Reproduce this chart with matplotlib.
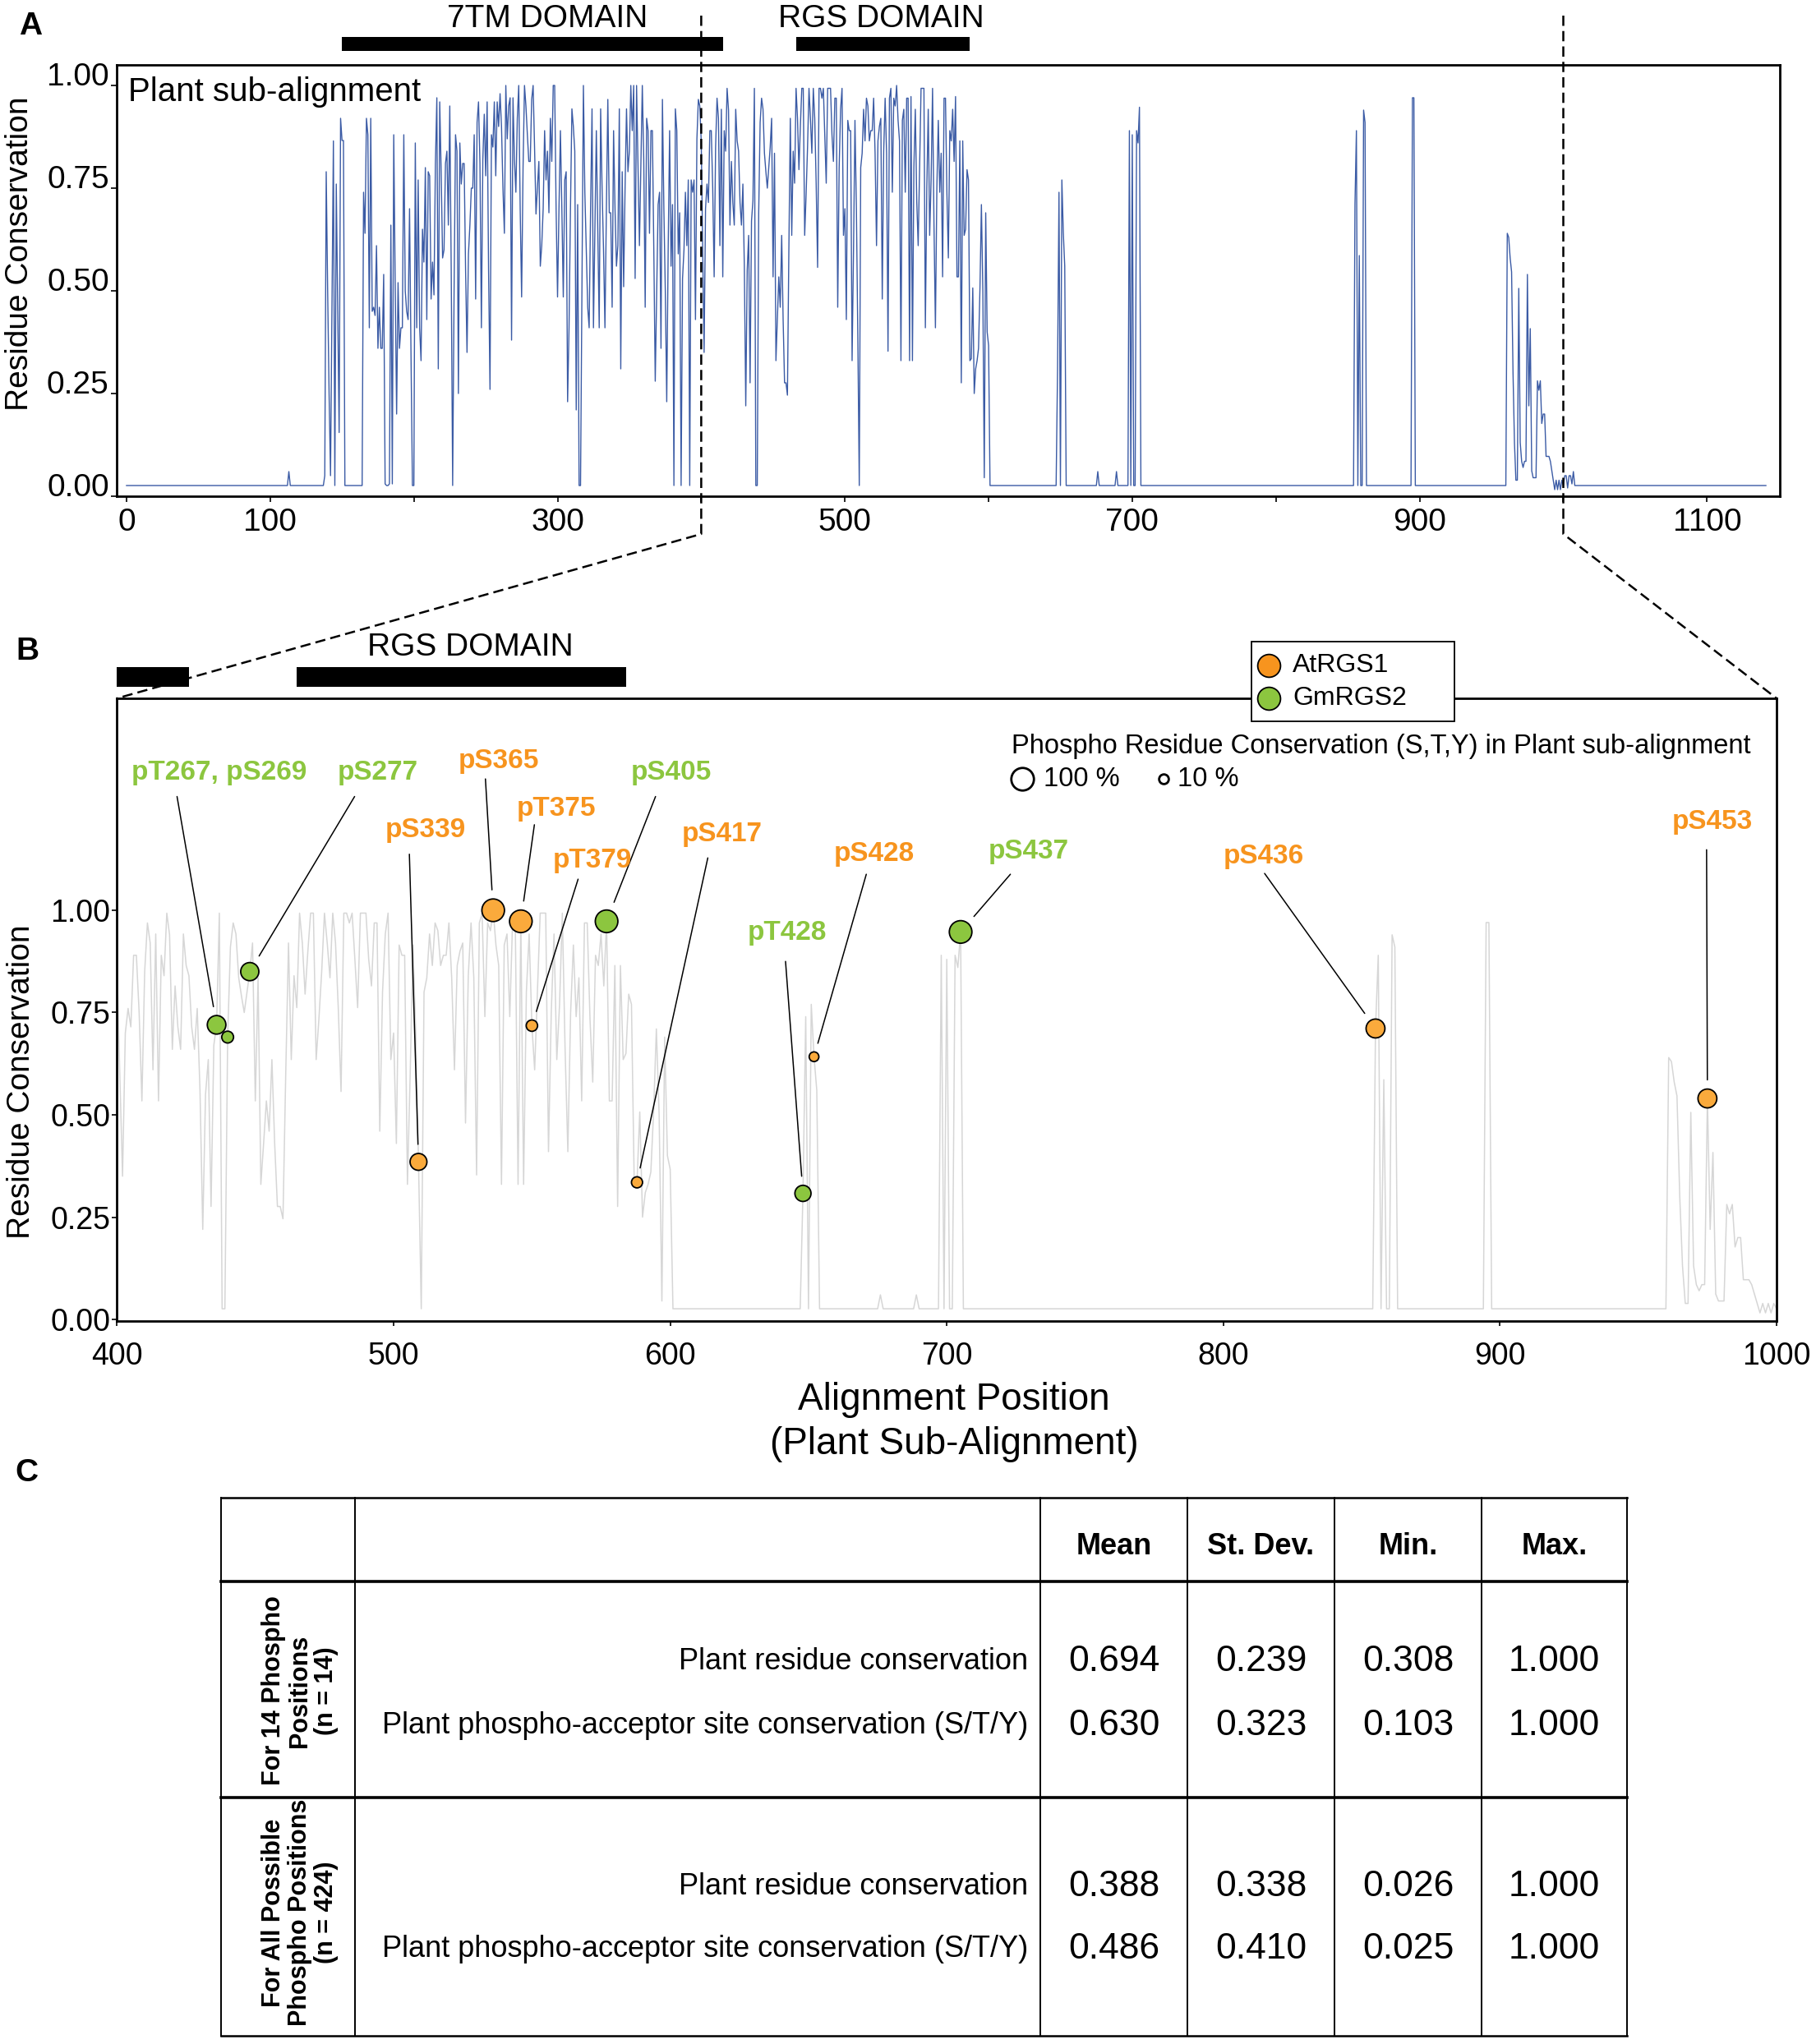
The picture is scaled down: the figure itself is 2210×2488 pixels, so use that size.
import numpy as np
import matplotlib
matplotlib.use("Agg")
from matplotlib import pyplot as plt
from matplotlib.patches import Rectangle
from matplotlib.lines import Line2D
from matplotlib.transforms import blended_transform_factory

plt.rcParams['font.family'] = ['Liberation Sans', 'DejaVu Sans']

# ---------------- data ----------------
# plant residue conservation per alignment position (gap baseline = 0.026)
n_positions = 1142
BASE = 0.026

bump_113 = [0.06]
seg_138 = [0.05, 0.79, 0.50, 0.25, 0.05, 0.45, 0.865, 0.026, 0.76, 0.45,
           0.155, 0.92, 0.866, 0.866, 0.026]
seg_165 = [0.74, 0.64, 0.92, 0.88, 0.41, 0.92, 0.45, 0.46, 0.44, 0.61,
           0.36, 0.46, 0.36, 0.36, 0.54, 0.03, 0.026, 0.026, 0.03, 0.66,
           0.03, 0.88, 0.52, 0.20, 0.52, 0.36, 0.41, 0.41, 0.88, 0.50,
           0.45, 0.43, 0.70, 0.35, 0.026, 0.026, 0.86, 0.41, 0.77, 0.41,
           0.33, 0.65, 0.57, 0.80, 0.43, 0.79, 0.78, 0.48, 0.57, 0.49,
           0.81, 0.97, 0.31, 0.96, 0.79, 0.58, 0.60, 0.81, 0.84, 0.66,
           0.95, 0.55, 0.026, 0.50, 0.88, 0.84, 0.25, 0.86, 0.76, 0.81,
           0.81, 0.55, 0.35, 0.59, 0.66, 0.75, 0.75, 0.88, 0.48, 0.91,
           0.96, 0.81, 0.41, 0.82, 0.93, 0.78, 0.96, 0.55, 0.26, 0.88,
           0.85, 0.96, 0.78, 0.96, 0.90, 0.98]
seg_261 = [0.90, 0.75, 0.64, 1.0, 0.87, 0.95, 0.97, 0.38, 0.97, 0.82,
           0.74, 0.92, 1.0, 0.70, 0.485, 0.80, 1.0, 0.95, 0.88, 0.815,
           0.815, 0.966, 1.0, 0.85, 0.687, 0.75, 0.815, 0.56, 0.61, 0.70,
           0.89, 0.77, 0.84, 0.69, 0.92, 0.815, 1.0, 1.0, 0.70, 0.485,
           0.70, 0.89, 0.70, 0.485, 0.77, 0.79, 0.23, 0.41, 0.70, 0.943,
           0.90, 0.84, 0.21, 0.71, 0.026, 0.026, 0.50, 1.0, 0.74, 0.60,
           0.46, 0.41, 0.70, 0.943, 0.41, 0.65, 0.89, 0.65, 0.41, 0.943,
           0.75, 0.60, 0.41, 0.70, 0.966, 0.69, 0.69, 0.46, 0.89, 0.70,
           0.56, 0.61, 0.943, 0.31, 0.79, 0.51, 0.75, 0.943, 0.79, 0.84,
           1.0, 0.89, 1.0, 0.53, 1.0, 0.80, 0.61, 0.80, 1.0, 0.82,
           0.46, 0.92, 0.89, 0.64, 0.89, 0.89, 0.60, 0.28, 0.50, 0.71,
           0.74, 0.36, 0.966, 0.70, 0.50, 0.23, 0.60, 0.89, 0.56, 0.71,
           0.026, 0.943, 0.89, 0.59, 0.69, 0.026, 0.53, 0.60, 0.74, 0.61,
           0.77, 0.026, 0.77, 0.74, 0.77, 0.43, 0.87, 0.966, 0.95]
seg_400 = [0.865, 0.60, 0.35, 0.70, 0.76, 0.715, 0.89, 0.89, 0.75, 0.534,
           0.85, 0.969, 0.92, 0.61, 0.942, 0.534, 0.89, 0.84, 0.993, 0.94,
           0.66, 0.815, 0.715, 0.66, 0.942, 0.865, 0.84, 0.715, 0.66, 0.76,
           0.56, 0.22, 0.55, 0.635, 0.276, 0.67, 0.72, 0.993, 0.026, 0.026,
           0.69, 0.91, 0.969, 0.942, 0.835, 0.79, 0.75, 0.80, 0.85, 0.92,
           0.534, 0.835, 0.33, 0.43, 0.534, 0.46, 0.635, 0.43, 0.276, 0.276,
           0.246, 0.60, 0.92, 0.635, 0.84, 0.762, 0.993, 0.92, 0.795, 0.90,
           0.993, 0.993, 0.635, 0.735, 0.85, 0.993, 0.92, 0.835, 0.993, 0.92,
           0.76, 0.557, 0.993, 0.993, 0.969, 0.993, 0.88, 0.762, 0.993, 0.993,
           0.993, 0.88, 0.815, 0.969, 0.969, 0.46, 0.80, 0.942, 0.993, 0.635]
seg_500 = [0.70, 0.43, 0.915, 0.89, 0.89, 0.33, 0.60, 0.915, 0.70, 0.385,
           0.026, 0.80, 0.835, 0.942, 0.865, 0.969, 0.95, 0.865, 0.89, 0.89,
           0.969, 0.835, 0.61, 0.865, 0.90, 0.92, 0.48, 0.84, 0.969, 0.835,
           0.353, 0.969, 0.993, 0.74, 0.969, 0.95, 1.0, 0.915, 0.865, 0.33,
           0.915, 0.942, 0.74, 0.969, 0.969, 0.33, 0.973, 0.33, 0.80, 0.942,
           0.718, 0.61, 0.80, 0.993, 0.993, 0.993, 0.41, 0.75, 0.942, 0.635,
           0.77, 0.993, 0.66, 0.41, 0.75, 0.915, 0.74, 0.835, 0.534, 0.969,
           0.969, 0.735, 0.58, 0.89, 0.865, 0.942, 0.815, 0.973, 0.534, 0.534,
           0.865, 0.276, 0.865, 0.635, 0.65, 0.795, 0.77, 0.33, 0.335, 0.507,
           0.25, 0.31, 0.33, 0.36, 0.507, 0.71, 0.50, 0.045, 0.69, 0.40,
           0.367]
peak_648 = [0.308, 0.74, 0.026, 0.77, 0.642, 0.56]
bump_676 = [0.06]
bump_689 = [0.06]
peak_698 = [0.89, 0.026, 0.88, 0.026, 0.026, 0.89, 0.86, 0.947]
peak_855 = [0.711, 0.89, 0.026, 0.586, 0.026, 0.026, 0.94, 0.91]
peak_895 = [0.97, 0.97]
tail_961 = [0.64, 0.63, 0.58, 0.546, 0.30, 0.13, 0.039, 0.039, 0.506, 0.131,
            0.085, 0.07, 0.085, 0.085, 0.54, 0.22, 0.408, 0.062, 0.045, 0.045,
            0.045, 0.281, 0.258, 0.281, 0.177, 0.20, 0.20, 0.097, 0.097, 0.097,
            0.085, 0.062, 0.039, 0.016, 0.039, 0.016, 0.039, 0.016, 0.039, 0.026,
            0.05, 0.05, 0.02, 0.05, 0.05, 0.03, 0.06]

seg_starts = [113, 138, 165, 261, 400, 500, 648, 676, 689, 698, 855, 895, 961]
seg_values = [bump_113, seg_138, seg_165, seg_261, seg_400, seg_500, peak_648,
              bump_676, bump_689, peak_698, peak_855, peak_895, tail_961]

positions = np.arange(n_positions)
cons = np.full(n_positions, BASE)
for start, vals in zip(seg_starts, seg_values):
    cons[start:start + len(vals)] = vals

# phosphosites
site_names = ["pT267", "pS269", "pS277", "pS339", "pS365", "pT375", "pT379",
              "pS405", "pS417", "pT428", "pS428", "pS437", "pS436", "pS453"]
site_pos = [436, 440, 448, 509, 536, 546, 550, 577, 588, 648, 652, 705, 855, 975]
site_protein = ["GmRGS2", "GmRGS2", "GmRGS2", "AtRGS1", "AtRGS1", "AtRGS1", "AtRGS1",
                "GmRGS2", "AtRGS1", "GmRGS2", "AtRGS1", "GmRGS2", "AtRGS1", "AtRGS1"]
site_sty_cons = [0.72, 0.25, 0.69, 0.60, 1.0, 1.0, 0.22, 1.0, 0.20, 0.55, 0.103,
                 1.0, 0.74, 0.74]

label_text = ["pT267, pS269", "pS277", "pS339", "pS365", "pT375", "pT379", "pS405",
              "pS417", "pT428", "pS428", "pS437", "pS436", "pS453"]
label_site = [0, 2, 3, 4, 5, 6, 7, 8, 9, 10, 11, 12, 13]
label_x = [436.9, 494.2, 511.5, 538.0, 558.8, 571.9, 600.5, 618.8, 642.2, 673.8,
           729.7, 814.5, 976.9]
label_y = [1.336, 1.336, 1.195, 1.364, 1.247, 1.122, 1.336, 1.186, 0.944, 1.137,
           1.143, 1.132, 1.215]
leader_x = [421.7, 485.9, 505.7, 533.2, 550.9, 566.7, 594.7, 613.6, 641.7, 670.9,
            723.0, 814.9, 974.7]
leader_y = [1.278, 1.278, 1.137, 1.321, 1.209, 1.076, 1.278, 1.128, 0.875, 1.088,
            1.088, 1.090, 1.148]

domain_names_a = ["7TM DOMAIN", "RGS DOMAIN"]
domain_start_a = [150, 466]
domain_end_a = [415, 587]
domain_label_x_a = [293, 525]
domain_start_b = [400, 465]
domain_end_b = [426, 584]
domain_label_x_b = 527.6

# table
stat_cols = ["Mean", "St. Dev.", "Min.", "Max."]
row_labels = ["Plant residue conservation",
              "Plant phospho-acceptor site conservation (S/T/Y)"]
group_labels = ["For 14 Phospho\nPositions\n(n = 14)",
                "For All Possible\nPhospho Positions\n(n = 424)"]
stats_14 = [[0.694, 0.239, 0.308, 1.000], [0.630, 0.323, 0.103, 1.000]]
stats_424 = [[0.388, 0.338, 0.026, 1.000], [0.486, 0.410, 0.025, 1.000]]

# ---------------- figure ----------------
W, H = 2210, 2488
DPI = 100


def fx(x):
    return x / W


def fy(y):
    return 1 - y / H


ORANGE = '#F7941E'
ORANGE_FILL = '#FAAA3C'
GREEN = '#8CC63F'
prot_color = {"AtRGS1": ORANGE, "GmRGS2": GREEN}
prot_fill = {"AtRGS1": ORANGE_FILL, "GmRGS2": GREEN}

fig = plt.figure(figsize=(W / DPI, H / DPI), dpi=DPI, facecolor='white')

# ---- panel A ----
ax_a = fig.add_axes([fx(142.4), fy(604), (2166 - 142.4) / W, (604 - 79) / H])
ax_a.plot(positions, cons, color='#3B5BA5', lw=1.0)
ax_a.set_xlim(-6.6, 1150.7)
ax_a.set_ylim(0, 1.05)
ax_a.set_xticks(range(0, 1200, 100))
ax_a.set_xticklabels([str(t) if (t == 0 or (t // 100) % 2 == 1) else '' for t in range(0, 1200, 100)])
ax_a.set_yticks([0, 0.25, 0.5, 0.75, 1.0])
ax_a.set_yticklabels(['0.00', '0.25', '0.50', '0.75', '1.00'])
for lab in ax_a.get_yticklabels():
    lab.set_va('baseline')
ax_a.tick_params(axis='both', labelsize=28, length=5, width=1.2, direction='out')
ax_a.tick_params(axis='x', pad=5)
ax_a.tick_params(axis='y', pad=2)
for sp in ax_a.spines.values():
    sp.set_linewidth(2.0)
ax_a.text(0.0067, 0.938, "Plant sub-alignment", transform=ax_a.transAxes, fontsize=29,
          ha='left', va='center', zorder=5,
          bbox=dict(facecolor='white', edgecolor='none', pad=1))

# ---- panel B ----
ax_b = fig.add_axes([fx(142.4), fy(1608), (2162 - 142.4) / W, (1608 - 850) / H])
ax_b.plot(positions, cons, color='#D6D6D6', lw=1.1, zorder=1)
ax_b.set_xlim(400, 1000)
ax_b.set_ylim(-0.004, 1.518)
ax_b.set_xticks(range(400, 1001, 100))
ax_b.set_yticks([0, 0.25, 0.5, 0.75, 1.0])
ax_b.set_yticklabels(['0.00', '0.25', '0.50', '0.75', '1.00'])
ax_b.tick_params(axis='both', labelsize=27, length=4, width=1.2, direction='out')
ax_b.tick_params(axis='x', pad=14)
ax_b.tick_params(axis='y', pad=2)
for sp in ax_b.spines.values():
    sp.set_linewidth(2.0)


def marker_diam_pt(p):
    return (10 + 17.5 * p) * 72 / DPI


site_y = [cons[p] for p in site_pos]
diams = [marker_diam_pt(p) for p in site_sty_cons]
ax_b.scatter(site_pos, site_y, s=[d ** 2 for d in diams],
             c=[prot_fill[pr] for pr in site_protein],
             edgecolors='black', linewidths=1.3, zorder=4)

for txt, si, lx, ly, sx, sy in zip(label_text, label_site, label_x, label_y, leader_x, leader_y):
    col = prot_color[site_protein[si]]
    ax_b.text(lx, ly, txt, color=col, fontsize=24, fontweight='bold',
              ha='center', va='center', zorder=5)
    ax_b.annotate('', xy=(site_pos[si], site_y[si]), xytext=(sx, sy),
                  arrowprops=dict(arrowstyle='-', color='black', lw=1.1,
                                  shrinkA=0, shrinkB=diams[si] / 2 + 8),
                  zorder=3)

# domain bars
tr_a = blended_transform_factory(ax_a.transData, fig.transFigure)
for name, s, e, lx in zip(domain_names_a, domain_start_a, domain_end_a, domain_label_x_a):
    fig.add_artist(Rectangle((s, fy(62)), e - s, (62 - 45) / H, transform=tr_a,
                             facecolor='black', edgecolor='none', clip_on=False))
    fig.text(lx, fy(23), name, transform=tr_a, fontsize=28, ha='center', va='center')

tr_b = blended_transform_factory(ax_b.transData, fig.transFigure)
for s, e in zip(domain_start_b, domain_end_b):
    fig.add_artist(Rectangle((s, fy(836)), e - s, (836 - 812) / H, transform=tr_b,
                             facecolor='black', edgecolor='none', clip_on=False))
fig.text(domain_label_x_b, fy(788), "RGS DOMAIN", transform=tr_b,
         fontsize=28, ha='center', va='center')

# dashed connectors from panel A window (400-1000) to panel B
inv = fig.transFigure.inverted()
for xa, corner in [(400, (0, 1)), (1000, (1, 1))]:
    xd = inv.transform(ax_a.transData.transform((xa, 0)))[0]
    cx, cy = inv.transform(ax_b.transAxes.transform(corner))
    fig.add_artist(Line2D([xd, xd, cx], [fy(19), fy(650), cy], color='black', lw=1.8,
                          linestyle=(0, (5, 2.5)), zorder=6))

# legend box for proteins
fig.add_artist(Rectangle((fx(1523), fy(878)), (1770 - 1523) / W, (878 - 781) / H,
                         transform=fig.transFigure, facecolor='white', edgecolor='black',
                         lw=1.3, zorder=7))
for yy, prot in [(810, "AtRGS1"), (850, "GmRGS2")]:
    fig.add_artist(Line2D([fx(1544)], [fy(yy)], marker='o', markersize=20,
                          markerfacecolor=prot_color[prot], markeredgecolor='black',
                          markeredgewidth=1.3, linestyle='none', zorder=8))
    fig.text(fx(1573), fy(yy), prot, fontsize=23, ha='left', va='center', zorder=8)

# size legend
fig.text(fx(1231), fy(908), "Phospho Residue Conservation (S,T,Y) in Plant sub-alignment",
         fontsize=23.5, ha='left', va='center')
for cx, p, lab, tx in [(1244, 1.0, "100 %", 1270), (1416, 0.1, "10 %", 1433)]:
    fig.add_artist(Line2D([fx(cx)], [fy(948)], marker='o', markersize=marker_diam_pt(p),
                          markerfacecolor='none', markeredgecolor='black',
                          markeredgewidth=2.0, linestyle='none'))
    fig.text(fx(tx), fy(948), lab, fontsize=23.5, ha='left', va='center')

# axis labels
fig.text(fx(24), fy(309), "Residue Conservation", rotation=90, fontsize=28,
         ha='center', va='center')
fig.text(fx(26), fy(1317), "Residue Conservation", rotation=90, fontsize=28,
         ha='center', va='center')
fig.text(fx(1161), fy(1704), "Alignment Position", fontsize=33, ha='center', va='center')
fig.text(fx(1161), fy(1758), "(Plant Sub-Alignment)", fontsize=33, ha='center', va='center')

# panel letters
for letter, (lx, ly) in zip("ABC", [(37, 32), (33, 793), (32, 1793)]):
    fig.text(fx(lx), fy(ly), letter, fontsize=28, fontweight='bold', ha='center', va='center')

# ---- table C ----
tab_left, tab_right = 269, 1980
tab_rows = [1823, 1925, 2188, 2478]
row_lw = [1.8, 2.6, 2.6, 1.8]
tab_cols = [269, 432, 1266, 1445, 1624, 1803, 1980]
for y, lw in zip(tab_rows, row_lw):
    fig.add_artist(Line2D([fx(tab_left), fx(tab_right)], [fy(y), fy(y)], color='black', lw=lw))
for x in tab_cols:
    fig.add_artist(Line2D([fx(x), fx(x)], [fy(tab_rows[0]), fy(tab_rows[-1])],
                          color='black', lw=1.4))

col_centers = [(tab_cols[i + 2] + tab_cols[i + 3]) / 2 for i in range(4)]
for name, cx in zip(stat_cols, col_centers):
    fig.text(fx(cx), fy(1882), name, fontsize=26, fontweight='bold', ha='center', va='center')

for stats, ys, glab, gy in [(stats_14, [2022, 2100], group_labels[0], 2058),
                            (stats_424, [2296, 2373], group_labels[1], 2328)]:
    fig.text(fx(365), fy(gy), glab, rotation=90, fontsize=22, fontweight='bold',
             ha='center', va='center', multialignment='center', linespacing=1.1)
    for rl, vals, yy in zip(row_labels, stats, ys):
        fig.text(fx(1251), fy(yy), rl, fontsize=26, ha='right', va='center')
        for v, cx in zip(vals, col_centers):
            fig.text(fx(cx), fy(yy), f"{v:.3f}", fontsize=32, ha='center', va='center')

fig.savefig("out.png", dpi=DPI, facecolor='white')
